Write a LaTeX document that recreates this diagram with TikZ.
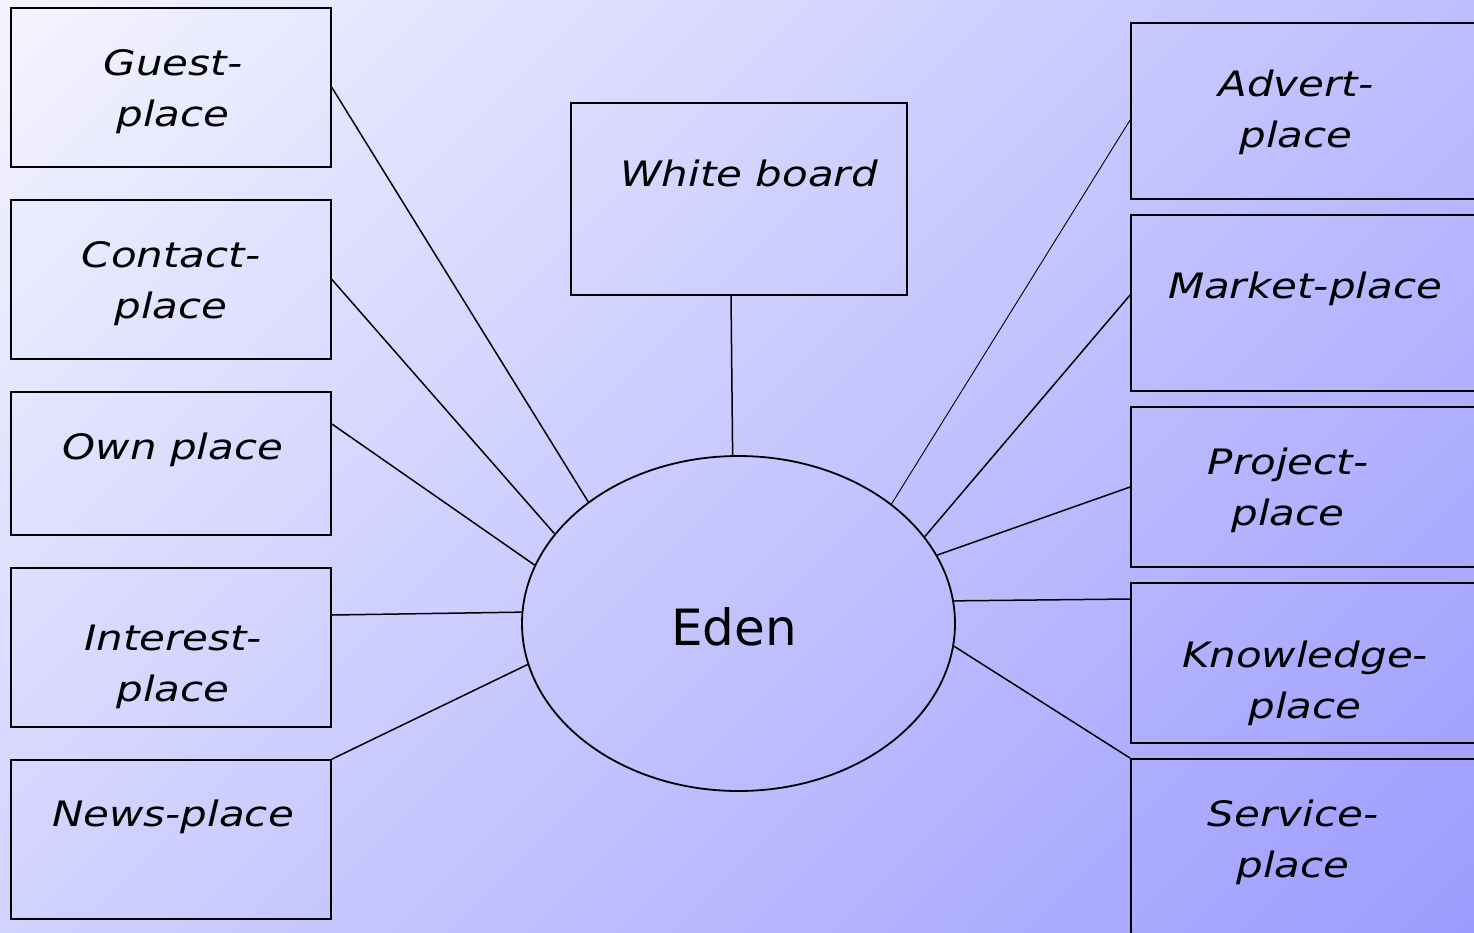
\documentclass[tikz,border=0pt]{standalone}
\usepackage{fontspec}
\setmainfont{DejaVu Sans}
\newfontfamily\boxfont[FakeStretch=1.2]{DejaVu Sans}
\usetikzlibrary{shapes.geometric}
\definecolor{bgA}{RGB}{244,244,255}
\definecolor{bgB}{RGB}{156,156,255}
\pgfdeclareverticalshading{bgshade}{100bp}{color(0bp)=(bgB); color(14.6bp)=(bgB); color(85.4bp)=(bgA); color(100bp)=(bgA)}
\tikzset{
  box/.style={draw=black, line width=1.8pt, inner sep=0pt, fill=none},
  lbox/.style={box, minimum width=320pt},
  rbox/.style={box, minimum width=349pt},
  txt/.style={font=\boxfont\itshape\fontsize{35}{51}\selectfont, align=center, inner sep=0pt, anchor=base},
  conn/.style={draw=black, line width=1.5pt},
  thinconn/.style={draw=black, line width=0.9pt}
}
\begin{document}
\begin{tikzpicture}[x=1pt,y=-1pt]
\useasboundingbox (0,0) rectangle (1474,932);
\shade[shading=bgshade, shading angle=45] (0,0) rectangle (1474,932);

% left column
\node[lbox, minimum height=159pt] (guest) at (171,87.5) {};
\node[lbox, minimum height=159pt] (contact) at (171,279.5) {};
\node[lbox, minimum height=143pt] (own) at (171,463.5) {};
\node[lbox, minimum height=159pt] (interest) at (171,647.5) {};
\node[lbox, minimum height=159pt] (news) at (171,839.5) {};
% white board
\node[box, minimum width=336pt, minimum height=192pt] (wb) at (739,199) {};
% right column
\node[rbox, minimum height=176pt] (advert) at (1305.5,111) {};
\node[rbox, minimum height=176pt] (market) at (1305.5,303) {};
\node[rbox, minimum height=160pt] (project) at (1305.5,487) {};
\node[rbox, minimum height=160pt] (knowledge) at (1305.5,663) {};
\node[rbox, minimum height=181pt] (service) at (1305.5,849.5) {};

% texts (base anchor = baseline of last line)
\node[txt] (guestT) at (173,126) {Guest-\\place};
\node[txt] (contactT) at (171,318) {Contact-\\place};
\node[txt] (ownT) at (173,459) {Own place};
\node[txt] (interestT) at (173,701) {Interest-\\place};
\node[txt] (newsT) at (173,826) {News-place};
\node[txt] (wbT) at (749,186) {White board};
\node[txt] (advertT) at (1296,147) {Advert-\\place};
\node[txt] (marketT) at (1305,298) {Market-place};
\node[txt] (projectT) at (1288,525) {Project-\\place};
\node[txt] (knowledgeT) at (1305,718) {Knowledge-\\place};
\node[txt] (serviceT) at (1293,877) {Service-\\place};

% centre
\node[ellipse, draw=black, line width=1.8pt, minimum width=433pt, minimum height=335pt, inner sep=0pt] (eden) at (738.5,623.5) {};
\node[font=\fontsize{50}{60}\selectfont, inner sep=0pt, anchor=base] (edenT) at (734,645) {Eden};

% connectors
\draw[conn] (guest.east) -- (eden.141.5);
\draw[conn] (contact.east) -- (eden.154.4);
\draw[conn] ([yshift=39.5pt]own.east) -- (eden.164.1);
\draw[conn] ([yshift=32.5pt]interest.east) -- (eden.177.8);
\draw[conn] (news.north east) -- (eden.191.3);
\draw[conn] ([xshift=-8pt]wb.south) -- (eden.92.6);
\draw[thinconn] ([yshift=-9pt]advert.west) -- (eden.38.5);
\draw[conn] ([yshift=8pt]market.west) -- (eden.25.8);
\draw[conn] (project.west) -- (eden.19.9);
\draw[conn] ([yshift=64pt]knowledge.west) -- (eden.6.5);
\draw[conn] (service.north west) -- (eden.-6.5);
\end{tikzpicture}
\end{document}
